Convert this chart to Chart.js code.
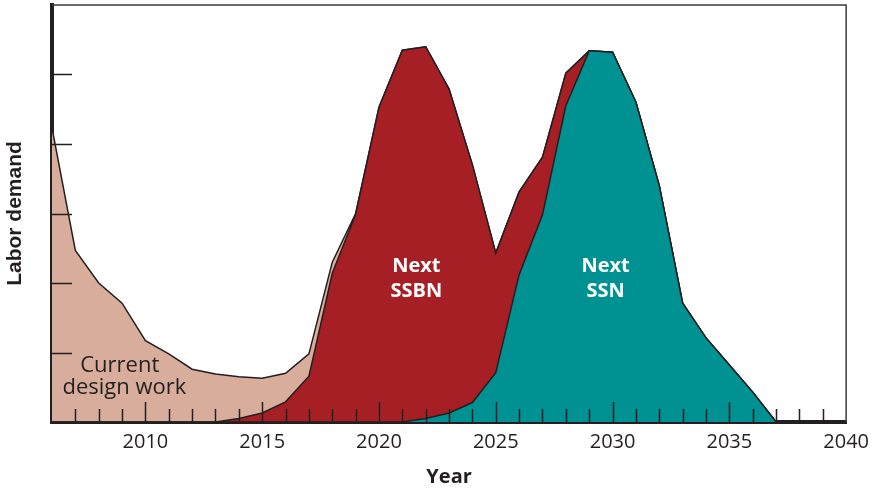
<!DOCTYPE html>
<html>
<head>
<meta charset="utf-8">
<script src="https://cdn.jsdelivr.net/npm/chart.js@4.4.1/dist/chart.umd.min.js"></script>
<style>
  body { margin: 0; background: #fff; }
  #wrap { width: 877px; height: 490px; }
</style>
</head>
<body>
<div id="wrap"><canvas id="chart"></canvas></div>
<script>
// years on the x axis, one point per year
const years = [
  2006, 2007, 2008, 2009, 2010, 2011, 2012, 2013, 2014, 2015, 2016, 2017,
  2018, 2019, 2020, 2021, 2022, 2023, 2024, 2025, 2026, 2027, 2028, 2029,
  2030, 2031, 2032, 2033, 2034, 2035, 2036, 2037, 2038, 2039, 2040
];

// labor demand of each program (stacked, arbitrary units)
const currentDesignWork = [
  4.23, 2.47, 2.00, 1.71, 1.17, 0.98, 0.76, 0.69, 0.60, 0.50, 0.41, 0.32,
  0.16, 0.01, 0, 0, 0, 0, 0, 0, 0, 0, 0, 0,
  0, 0, 0, 0, 0, 0, 0, 0, 0, 0, 0
];
const nextSSBN = [
  0, 0, 0, 0, 0, 0, 0, 0, 0.05, 0.13, 0.29, 0.66,
  2.14, 2.99, 4.53, 5.35, 5.35, 4.66, 3.42, 1.72, 1.19, 0.83, 0.47, 0,
  0, 0, 0, 0, 0, 0, 0, 0, 0, 0, 0
];
const nextSSN = [
  0, 0, 0, 0, 0, 0, 0, 0, 0, 0, 0, 0,
  0, 0, 0, 0, 0.05, 0.13, 0.28, 0.71, 2.12, 2.98, 4.55, 5.34,
  5.32, 4.60, 3.40, 1.71, 1.21, 0.82, 0.43, 0, 0, 0, 0
];

const yearLabels = [2010, 2015, 2020, 2025, 2030, 2035, 2040];

const INK = "#231f20";

function toPoints(values) {
  return values.map((v, i) => ({ x: years[i], y: v }));
}

function areaStyle(color) {
  return {
    backgroundColor: color,
    borderColor: INK,
    borderWidth: 1.5,
    fill: "origin",
    pointRadius: 0,
    tension: 0,
  };
}

// short tick marks pointing into the plot, plus the thin top/right frame
const innerTicks = {
  id: "innerTicks",
  afterDatasetsDraw(chart) {
    const { ctx, chartArea, scales } = chart;
    const { x, y } = scales;
    ctx.save();
    ctx.strokeStyle = INK;
    ctx.lineWidth = 1.5;
    ctx.beginPath();
    x.ticks.forEach((t) => {
      if (t.value <= x.min || t.value >= x.max) return;
      const px = Math.round(x.getPixelForValue(t.value)) + 0.5;
      const len = t.value % 5 === 0 ? 20 : 13;
      ctx.moveTo(px, chartArea.bottom);
      ctx.lineTo(px, chartArea.bottom - len);
    });
    y.ticks.forEach((t) => {
      if (t.value <= y.min || t.value >= y.max) return;
      const py = Math.round(y.getPixelForValue(t.value)) + 0.5;
      ctx.moveTo(chartArea.left, py);
      ctx.lineTo(chartArea.left + 20, py);
    });
    ctx.stroke();

    ctx.strokeStyle = "#3c3c3c";
    ctx.beginPath();
    ctx.moveTo(chartArea.left, chartArea.top);
    ctx.lineTo(chartArea.right, chartArea.top);
    ctx.lineTo(chartArea.right, chartArea.bottom);
    ctx.stroke();
    ctx.restore();
  },
};

// text written inside the areas
const areaLabels = {
  id: "areaLabels",
  afterDatasetsDraw(chart) {
    const { ctx, scales } = chart;
    const { x, y } = scales;
    const write = (lines, xv, yv, font, color) => {
      ctx.font = font;
      ctx.fillStyle = color;
      ctx.textAlign = "center";
      ctx.textBaseline = "alphabetic";
      lines.forEach((line, i) => {
        ctx.fillText(line, x.getPixelForValue(xv), y.getPixelForValue(yv) + i * 25);
      });
    };
    ctx.save();
    write(["Next", "SSBN"], 2021.6, 2.16, "bold 20px 'Open Sans'", "#ffffff");
    write(["Next", "SSN"], 2029.7, 2.16, "bold 20px 'Open Sans'", "#ffffff");
    ctx.font = "22px 'Open Sans'";
    ctx.fillStyle = INK;
    ctx.textAlign = "center";
    ctx.fillText("Current", x.getPixelForValue(2008.9), y.getPixelForValue(0.72));
    ctx.fillText("design work", x.getPixelForValue(2009.1), y.getPixelForValue(0.72) + 22);
    ctx.restore();
  },
};

new Chart(document.getElementById("chart"), {
  type: "line",
  data: {
    datasets: [
      { label: "Next SSN", data: toPoints(nextSSN), ...areaStyle("#009293") },
      { label: "Next SSBN", data: toPoints(nextSSBN), ...areaStyle("#a51f25") },
      { label: "Current design work", data: toPoints(currentDesignWork), ...areaStyle("#d8ad9b") },
    ],
  },
  options: {
    responsive: true,
    maintainAspectRatio: false,
    animation: false,
    layout: { padding: { top: 5, right: 28, left: 0, bottom: 0 } },
    plugins: {
      legend: { display: false },
      tooltip: { enabled: false },
    },
    scales: {
      x: {
        type: "linear",
        min: 2006,
        max: 2040,
        z: 1,
        grid: { display: false, drawTicks: false },
        border: { display: true, color: INK, width: 4 },
        ticks: {
          stepSize: 1,
          autoSkip: false,
          maxRotation: 0,
          padding: 8,
          color: INK,
          font: { family: "'Open Sans'", size: 20 },
          callback: (v) => (yearLabels.includes(v) ? String(v) : ""),
        },
        title: {
          display: true,
          text: "Year",
          color: INK,
          font: { family: "'Open Sans'", size: 20, weight: "bold" },
          padding: { top: 0, bottom: 1 },
        },
        afterFit: (scale) => { scale.height = 68; },
      },
      y: {
        stacked: true,
        min: 0,
        max: 6,
        z: 1,
        grid: { display: false, drawTicks: false },
        border: { display: true, color: INK, width: 4 },
        ticks: { stepSize: 1, display: false },
        title: {
          display: true,
          text: "Labor demand",
          color: INK,
          font: { family: "'Liberation Sans'", size: 21, weight: "bold" },
          padding: { top: 3, bottom: 0 },
        },
        afterFit: (scale) => { scale.width = 52; },
      },
    },
  },
  plugins: [innerTicks, areaLabels],
});
</script>
</body>
</html>
